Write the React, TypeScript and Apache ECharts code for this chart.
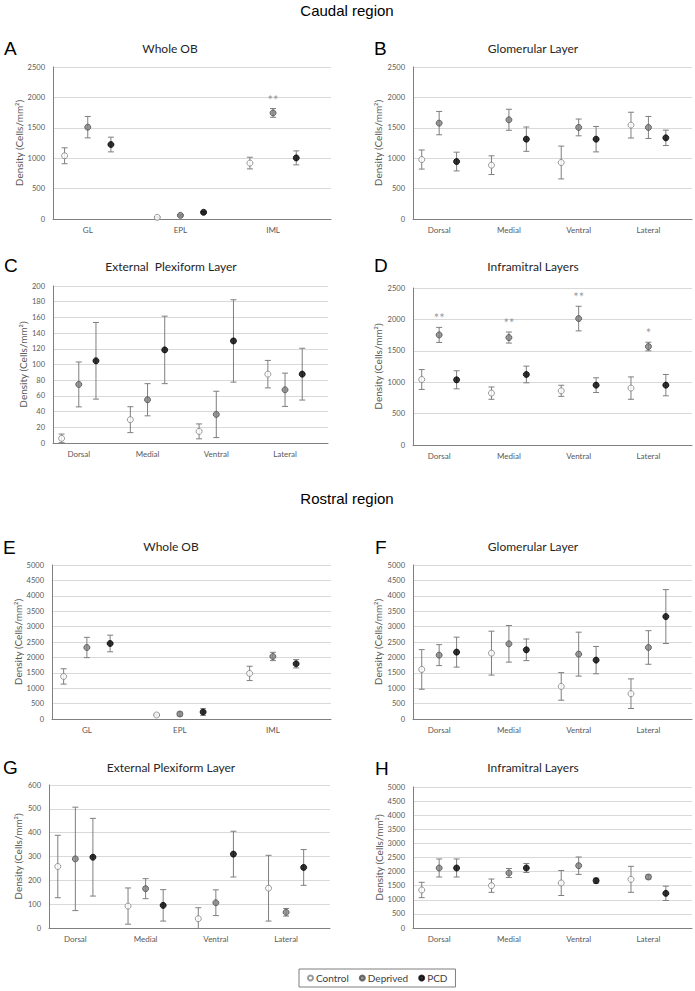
import React, { useEffect, useRef } from "react";
import * as echarts from "echarts";

const SERIES_NAMES = ["Control", "Deprived", "PCD"];
const wholeCats = ["GL", "EPL", "IML"];
const regionCats = ["Dorsal", "Medial", "Ventral", "Lateral"];

// A — Caudal, Whole OB
const aCtrlMean = [1040, 27, 920];
const aCtrlSem = [131, 8, 96];
const aDepMean = [1510, 60, 1745];
const aDepSem = [176, 12, 72];
const aPcdMean = [1225, 110, 1005];
const aPcdSem = [121, 15, 115];
const aStars = ["", "", "**"];

// B — Caudal, Glomerular Layer
const bCtrlMean = [978, 885, 929, 1544];
const bCtrlSem = [157, 154, 270, 212];
const bDepMean = [1577, 1632, 1506, 1506];
const bDepSem = [192, 173, 138, 181];
const bPcdMean = [945, 1313, 1313, 1335];
const bPcdSem = [154, 200, 209, 127];

// C — Caudal, External Plexiform Layer
const cCtrlMean = [5.9, 29.7, 14.8, 87.7];
const cCtrlSem = [5.5, 16.5, 9.5, 17.5];
const cDepMean = [74.6, 55.1, 36.4, 67.8];
const cDepSem = [28.6, 20.5, 29.5, 21.2];
const cPcdMean = [104.7, 118.6, 130, 87.7];
const cPcdSem = [48.8, 43, 52.5, 33];

// D — Caudal, Inframitral Layers
const dCtrlMean = [1043, 826, 863, 906];
const dCtrlSem = [158, 98, 88, 178];
const dDepMean = [1753, 1711, 2013, 1568];
const dDepSem = [120, 88, 196, 68];
const dPcdMean = [1038, 1123, 953, 953];
const dPcdSem = [144, 133, 117, 170];
const dStars = ["**", "**", "**", "*"];

// E — Rostral, Whole OB
const eCtrlMean = [1382, 130, 1480];
const eCtrlSem = [249, 30, 233];
const eDepMean = [2322, 162, 2030];
const eDepSem = [330, 65, 135];
const ePcdMean = [2452, 227, 1793];
const ePcdSem = [270, 108, 135];

// F — Rostral, Glomerular Layer
const fCtrlMean = [1609, 2138, 1058, 821];
const fCtrlSem = [643, 713, 448, 481];
const fDepMean = [2074, 2441, 2106, 2322];
const fDepSem = [340, 594, 713, 545];
const fPcdMean = [2171, 2246, 1912, 3326];
const fPcdSem = [486, 351, 443, 875];

// G — Rostral, External Plexiform Layer
const gCtrlMean = [258, 92, 39, 167];
const gCtrlSem = [131, 76, 46, 138];
const gDepMean = [290, 165, 106, 66];
const gDepSem = [217, 42, 54, 16];
const gPcdMean = [297, 95, 310, 254];
const gPcdSem = [163, 66, 96, 75];

// H — Rostral, Inframitral Layers
const hCtrlMean = [1348, 1501, 1596, 1726];
const hCtrlSem = [272, 236, 444, 461];
const hDepMean = [2128, 1950, 2210, 1809];
const hDepSem = [319, 160, 308, 70];
const hPcdMean = [2128, 2128, 1678, 1229];
const hPcdSem = [319, 160, 89, 254];

const FONT = "Lato, 'Noto Sans', sans-serif";
const ARIAL = "'Liberation Sans', Arial, sans-serif";
const GRAY_TXT = "#595959";
const ERR = "#7f7f7f";

const markerStyles = [
  { color: "#ffffff", borderColor: "#7f7f7f", borderWidth: 1 },
  { color: "#808080", borderColor: "#4d4d4d", borderWidth: 1 },
  { color: "#000000", borderColor: "#000000", borderWidth: 1 },
];

type Panel = {
  letter: string;
  title: string;
  cats: string[];
  means: number[][];
  sems: number[][];
  stars?: string[];
  yMax: number;
  yInt: number;
  grid: { left: number; top: number; width: number; height: number };
  nameGap: number;
  titleX: number;
  titleY: number;
  letterX: number;
  letterY: number;
};

const panels: Panel[] = [
  { letter: "A", title: "Whole OB", cats: wholeCats, means: [aCtrlMean, aDepMean, aPcdMean], sems: [aCtrlSem, aDepSem, aPcdSem], stars: aStars, yMax: 2500, yInt: 500, grid: { left: 53, top: 67, width: 278, height: 152 }, nameGap: 28, titleX: 170, titleY: 48, letterX: 4, letterY: 48 },
  { letter: "B", title: "Glomerular Layer", cats: regionCats, means: [bCtrlMean, bDepMean, bPcdMean], sems: [bCtrlSem, bDepSem, bPcdSem], yMax: 2500, yInt: 500, grid: { left: 413, top: 67, width: 279, height: 152 }, nameGap: 30, titleX: 533, titleY: 48, letterX: 374, letterY: 48 },
  { letter: "C", title: "External  Plexiform Layer", cats: regionCats, means: [cCtrlMean, cDepMean, cPcdMean], sems: [cCtrlSem, cDepSem, cPcdSem], yMax: 200, yInt: 20, grid: { left: 53, top: 286, width: 275, height: 157 }, nameGap: 23, titleX: 171, titleY: 266, letterX: 4, letterY: 265 },
  { letter: "D", title: "Inframitral Layers", cats: regionCats, means: [dCtrlMean, dDepMean, dPcdMean], sems: [dCtrlSem, dDepSem, dPcdSem], stars: dStars, yMax: 2500, yInt: 500, grid: { left: 413, top: 288, width: 279, height: 157 }, nameGap: 30, titleX: 533, titleY: 266, letterX: 374, letterY: 265 },
  { letter: "E", title: "Whole OB", cats: wholeCats, means: [eCtrlMean, eDepMean, ePcdMean], sems: [eCtrlSem, eDepSem, ePcdSem], yMax: 5000, yInt: 500, grid: { left: 52, top: 565, width: 279, height: 154 }, nameGap: 27, titleX: 171, titleY: 546, letterX: 3, letterY: 547 },
  { letter: "F", title: "Glomerular Layer", cats: regionCats, means: [fCtrlMean, fDepMean, fPcdMean], sems: [fCtrlSem, fDepSem, fPcdSem], yMax: 5000, yInt: 500, grid: { left: 413, top: 565, width: 279, height: 154 }, nameGap: 30, titleX: 533, titleY: 546, letterX: 375, letterY: 547 },
  { letter: "G", title: "External Plexiform Layer", cats: regionCats, means: [gCtrlMean, gDepMean, gPcdMean], sems: [gCtrlSem, gDepSem, gPcdSem], yMax: 600, yInt: 100, grid: { left: 49, top: 785, width: 281, height: 143 }, nameGap: 26, titleX: 171, titleY: 767, letterX: 3, letterY: 767 },
  { letter: "H", title: "Inframitral Layers", cats: regionCats, means: [hCtrlMean, hDepMean, hPcdMean], sems: [hCtrlSem, hDepSem, hPcdSem], yMax: 5000, yInt: 500, grid: { left: 413, top: 787, width: 279, height: 141 }, nameGap: 28, titleX: 533, titleY: 767, letterX: 375, letterY: 768 },
];

function errRender(params: any, api: any) {
  const x = api.value(0);
  const lo = api.coord([x, api.value(1)]);
  const hi = api.coord([x, api.value(2)]);
  const cap = 3;
  const style = { stroke: ERR, lineWidth: 1 };
  return {
    type: "group",
    children: [
      { type: "line", shape: { x1: lo[0], y1: lo[1], x2: hi[0], y2: hi[1] }, style },
      { type: "line", shape: { x1: hi[0] - cap, y1: hi[1], x2: hi[0] + cap, y2: hi[1] }, style },
      { type: "line", shape: { x1: lo[0] - cap, y1: lo[1], x2: lo[0] + cap, y2: lo[1] }, style },
    ],
  };
}

function buildOption() {
  const grid: any[] = [];
  const xAxis: any[] = [];
  const yAxis: any[] = [];
  const series: any[] = [];
  const graphic: any[] = [];

  const txt = (text: string, x: number, y: number, font: string, align: string, color = "#262626") => ({
    type: "text",
    x,
    y,
    silent: true,
    style: { text, font, fill: color, align, textAlign: align, verticalAlign: "middle", textVerticalAlign: "middle" },
  });

  graphic.push(txt("Caudal region", 347, 10, `15px ${ARIAL}`, "center", "#000"));
  graphic.push(txt("Rostral region", 347, 498, `15px ${ARIAL}`, "center", "#000"));

  panels.forEach((p, gi) => {
    const nSlots = p.cats.length * 4;
    const slotLabels = Array.from({ length: nSlots }, (_, i) => (i % 4 === 1 ? p.cats[(i - 1) / 4] : ""));
    grid.push({ ...p.grid, containLabel: false });
    xAxis.push({
      type: "category",
      gridIndex: gi,
      data: slotLabels,
      boundaryGap: true,
      axisTick: { show: false },
      axisLine: { show: true, lineStyle: { color: "#7f7f7f", width: 1 } },
      axisLabel: { interval: 0, fontSize: 8, fontFamily: FONT, color: GRAY_TXT, margin: 7 },
      splitLine: { show: false },
    });
    yAxis.push({
      type: "value",
      gridIndex: gi,
      min: 0,
      max: p.yMax,
      interval: p.yInt,
      axisLine: { show: true, lineStyle: { color: "#7f7f7f", width: 1 } },
      axisTick: { show: false },
      splitLine: { show: true, lineStyle: { color: "#d9d9d9", width: 1 } },
      axisLabel: { fontSize: 7.5, fontFamily: FONT, color: GRAY_TXT, margin: 8, formatter: (v: number) => String(v) },
      name: "Density (Cells/mm\u00b2)",
      nameLocation: "middle",
      nameGap: p.nameGap,
      nameRotate: 90,
      nameTextStyle: { fontSize: 10, fontFamily: FONT, color: GRAY_TXT },
    });

    for (let g = 0; g < 3; g++) {
      const means = p.means[g];
      const sems = p.sems[g];
      series.push({
        type: "custom",
        name: "err" + p.letter + g,
        xAxisIndex: gi,
        yAxisIndex: gi,
        renderItem: errRender,
        clip: true,
        silent: true,
        encode: { x: 0, y: [1, 2] },
        data: means.map((m, i) => [i * 4 + g, m - sems[i], m + sems[i]]),
        z: 2,
      });
    }
    for (let g = 0; g < 3; g++) {
      const means = p.means[g];
      series.push({
        type: "scatter",
        name: SERIES_NAMES[g],
        xAxisIndex: gi,
        yAxisIndex: gi,
        symbol: "circle",
        symbolSize: 6,
        itemStyle: markerStyles[g],
        silent: true,
        data: means.map((m, i) => [i * 4 + g, m]),
        z: 5,
      });
    }
    if (p.stars) {
      const dm = p.means[1];
      const ds = p.sems[1];
      const starData: any[] = [];
      p.stars.forEach((s, i) => {
        if (s) starData.push({ name: s, value: [i * 4 + 1, dm[i] + ds[i]] });
      });
      series.push({
        type: "scatter",
        name: "stars" + p.letter,
        xAxisIndex: gi,
        yAxisIndex: gi,
        symbolSize: 1,
        itemStyle: { color: "rgba(0,0,0,0)" },
        silent: true,
        data: starData,
        label: { show: true, position: "top", distance: 2, formatter: "{b}", fontSize: 13, fontFamily: FONT, color: "#7f7f7f" },
        z: 6,
      });
    }

    graphic.push(txt(p.letter, p.letterX, p.letterY, `19px ${ARIAL}`, "left", "#000"));
    graphic.push(txt(p.title, p.titleX, p.titleY, `12px ${FONT}`, "center", "#262626"));
  });

  return {
    animation: false,
    backgroundColor: "#ffffff",
    grid,
    xAxis,
    yAxis,
    series,
    graphic,
    legend: {
      data: SERIES_NAMES,
      left: 299,
      top: 969,
      orient: "horizontal",
      icon: "circle",
      itemWidth: 5,
      itemHeight: 5,
      itemGap: 10,
      selectedMode: false,
      borderColor: "#7f7f7f",
      borderWidth: 1,
      padding: [4, 8],
      textStyle: { fontSize: 10, fontFamily: FONT, color: "#404040", padding: [0, 0, 0, -2] },
    },
  };
}

export default function App() {
  const ref = useRef<HTMLDivElement>(null);
  useEffect(() => {
    document.body.style.margin = "0";
    if (!ref.current) return;
    const chart = echarts.init(ref.current, undefined, { renderer: "svg" });
    chart.setOption(buildOption() as any);
    return () => chart.dispose();
  }, []);
  return <div ref={ref} style={{ width: 695, height: 991, background: "#fff" }} />;
}
